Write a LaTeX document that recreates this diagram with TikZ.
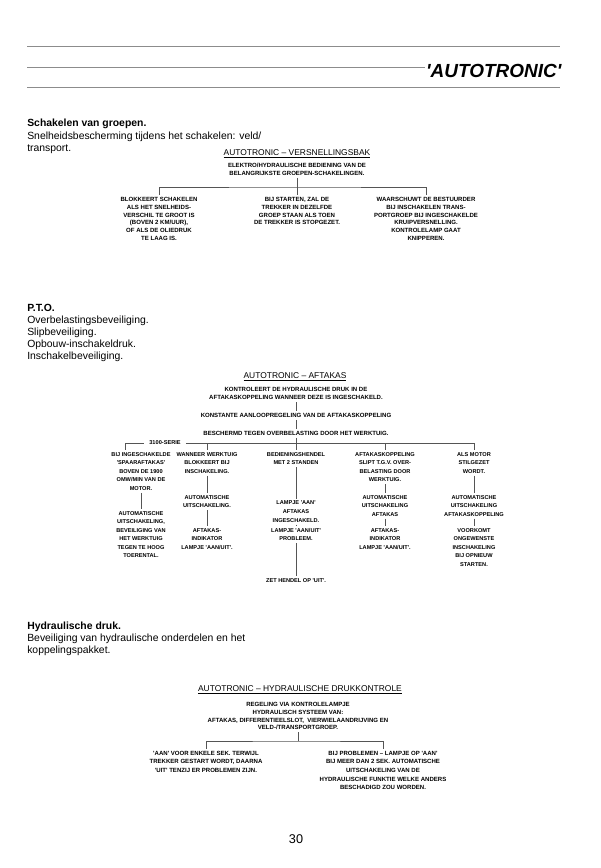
\documentclass[tikz,border=0pt]{standalone}
\usepackage{fontspec}
\setmainfont{Liberation Sans}[Ligatures=TeXOff]
\usepackage{xcolor}
\usepackage{tikz}
\usetikzlibrary{positioning}
\definecolor{rulegray}{HTML}{8C8C8C}
\definecolor{wiregray}{HTML}{555555}
\tikzset{
  para/.style={anchor=north west, inner sep=0pt, align=left, font=\fontsize{7.4}{8.7}\selectfont},
  dhead/.style={anchor=base, inner sep=0pt, font=\fontsize{6}{7}\selectfont},
  blok/.style={anchor=north, inner xsep=0pt, inner ysep=1.5pt, align=center, font=\bfseries\fontsize{4.3}{5.6}\selectfont},
  blokw/.style={blok, font=\bfseries\fontsize{4.3}{6.1}\selectfont},
  kol/.style={blok, font=\bfseries\fontsize{4}{6.1}\selectfont},
  tag/.style={anchor=center, inner xsep=3.5pt, inner ysep=0pt, font=\bfseries\fontsize{4}{5}\selectfont},
  wire/.style={draw=wiregray, line width=0.45pt},
  rule/.style={draw=rulegray, line width=0.6pt},
}
\begin{document}
\begin{tikzpicture}[x=0.025cm, y=-0.025cm]
\useasboundingbox (0,0) rectangle (600,868);
\draw[rule] (27,46) -- (560,46);
\draw[rule] (27,67) -- (560,67);
\draw[rule] (27,87) -- (560,87);
\node[anchor=base east, inner sep=1pt, fill=white, font=\bfseries\itshape\fontsize{13.5}{16}\selectfont] (ttl) at (563,77) {'AUTOTRONIC'};

\node[para] (grp) at (27,119) {\textbf{Schakelen van groepen.}\\Snelheidsbescherming tijdens het schakelen: veld/\\transport.};
\node[para] (pto) at (27,303.5) {\textbf{P.T.O.}\\Overbelastingsbeveiliging.\\Slipbeveiliging.\\Opbouw-inschakeldruk.\\Inschakelbeveiliging.};
\node[para] (hyd) at (27,621.5) {\textbf{Hydraulische druk.}\\Beveiliging van hydraulische onderdelen en het\\koppelingspakket.};

\node[dhead] (t1) at (297,155) {\underline{AUTOTRONIC – VERSNELLINGSBAK}};
\node[blok] (v1) at (297,160.7) {ELEKTRO/HYDRAULISCHE BEDIENING VAN DE\\BELANGRIJKSTE GROEPEN-SCHAKELINGEN.};
\node[blok] (v1l) at (159,194.7) {BLOKKEERT SCHAKELEN\\ALS HET SNELHEIDS-\\VERSCHIL TE GROOT IS\\(BOVEN 2 KM/UUR),\\OF ALS DE OLIEDRUK\\TE LAAG IS.};
\node[blok] (v1m) at (297,194.7) {BIJ STARTEN, ZAL DE\\TREKKER IN DEZELFDE\\GROEP STAAN ALS TOEN\\DE TREKKER IS STOPGEZET.};
\node[blok] (v1r) at (426,194.7) {WAARSCHUWT DE BESTUURDER\\BIJ INSCHAKELEN TRANS-\\PORTGROEP BIJ INGESCHAKELDE\\KRUIPVERSNELLING.\\KONTROLELAMP GAAT\\KNIPPEREN.};
\coordinate (j1) at (297,187);
\draw[wire] (v1.south) -- (j1);
\draw[wire] (v1l.north) |- (j1) -| (v1r.north);
\draw[wire] (v1m.north) -- (j1);

\node[dhead] (t2) at (295,378) {\underline{AUTOTRONIC – AFTAKAS}};
\node[blokw] (a1) at (296,384.7) {KONTROLEERT DE HYDRAULISCHE DRUK IN DE\\AFTAKASKOPPELING WANNEER DEZE IS INGESCHAKELD.};
\node[blokw] (a2) at (296,410.7) {KONSTANTE AANLOOPREGELING VAN DE AFTAKASKOPPELING};
\node[blokw] (a3) at (296,428.7) {BESCHERMD TEGEN OVERBELASTING DOOR HET WERKTUIG.};
\node[tag] (serie) at (165,443) {3100-SERIE};
\node[kol] (c1a) at (141,449.7) {BIJ INGESCHAKELDE\\'SPAARAFTAKAS'\\BOVEN DE 1900\\OMW/MIN VAN DE\\MOTOR.};
\node[kol] (c1b) at (141,508.7) {AUTOMATISCHE\\UITSCHAKELING,\\BEVEILIGING VAN\\HET WERKTUIG\\TEGEN TE HOOG\\TOERENTAL.};
\node[kol] (c2a) at (207,449.7) {WANNEER WERKTUIG\\BLOKKEERT BIJ\\INSCHAKELING.};
\node[kol] (c2b) at (207,492.7) {AUTOMATISCHE\\UITSCHAKELING.};
\node[kol] (c2c) at (207,525.7) {AFTAKAS-\\INDIKATOR\\LAMPJE 'AAN/UIT'.};
\node[kol] (c3a) at (296,449.7) {BEDIENINGSHENDEL\\MET 2 STANDEN};
\node[kol] (c3b) at (296,498.7) {LAMPJE 'AAN'\\AFTAKAS\\INGESCHAKELD.};
\node[kol] (c3c) at (296,525.7) {LAMPJE 'AAN/UIT'\\PROBLEEM.};
\node[kol] (c3d) at (296,575.7) {ZET HENDEL OP 'UIT'.};
\node[kol] (c4a) at (385,449.7) {AFTAKASKOPPELING\\SLIPT T.G.V. OVER-\\BELASTING DOOR\\WERKTUIG.};
\node[kol] (c4b) at (385,492.7) {AUTOMATISCHE\\UITSCHAKELING\\AFTAKAS};
\node[kol] (c4c) at (385,525.7) {AFTAKAS-\\INDIKATOR\\LAMPJE 'AAN/UIT'.};
\node[kol] (c5a) at (474,449.7) {ALS MOTOR\\STILGEZET\\WORDT.};
\node[kol] (c5b) at (474,492.7) {AUTOMATISCHE\\UITSCHAKELING\\AFTAKASKOPPELING};
\node[kol] (c5c) at (474,525.7) {VOORKOMT\\ONGEWENSTE\\INSCHAKELING\\BIJ OPNIEUW\\STARTEN.};
\coordinate (s1) at (125,443);
\draw[wire] (a1.south) -- (a2.north);
\draw[wire] (a2.south) -- (a3.north);
\draw[wire] (a3.south) -- (c3a.north);
\draw[wire] (s1 |- c1a.north) -- (s1) -- (serie.west);
\draw[wire] (serie.east) -| (c5a.north);
\foreach \c in {c2a,c4a} \draw[wire] (\c.north) -- (\c.north |- serie);
\foreach \a/\b in {c1a/c1b, c2a/c2b, c2b/c2c, c3a/c3b, c3b/c3c, c3c/c3d, c4a/c4b, c4b/c4c, c5a/c5b, c5b/c5c}
  \draw[wire] (\a.south) -- (\b.north);

\node[dhead] (t3) at (300,691) {\underline{AUTOTRONIC – HYDRAULISCHE DRUKKONTROLE}};
\node[blok] (h1) at (298,699.7) {REGELING VIA KONTROLELAMPJE\\HYDRAULISCH SYSTEEM VAN:\\AFTAKAS, DIFFERENTIEELSLOT, \ VIERWIELAANDRIJVING EN\\VELD-/TRANSPORTGROEP.};
\node[blokw] (hl) at (206,748.7) {'AAN' VOOR ENKELE SEK. TERWIJL\\TREKKER GESTART WORDT, DAARNA\\'UIT' TENZIJ ER PROBLEMEN ZIJN.};
\node[blokw] (hr) at (383,748.7) {BIJ PROBLEMEN – LAMPJE OP 'AAN'\\BIJ MEER DAN 2 SEK. AUTOMATISCHE\\UITSCHAKELING VAN DE\\HYDRAULISCHE FUNKTIE WELKE ANDERS\\BESCHADIGD ZOU WORDEN.};
\coordinate (j3) at (298,741);
\draw[wire] (h1.south) -- (j3);
\draw[wire] (hl.north) |- (j3) -| (hr.north);

\node[font=\fontsize{9}{10}\selectfont] (pg) at (296,839) {30};
\end{tikzpicture}
\end{document}
